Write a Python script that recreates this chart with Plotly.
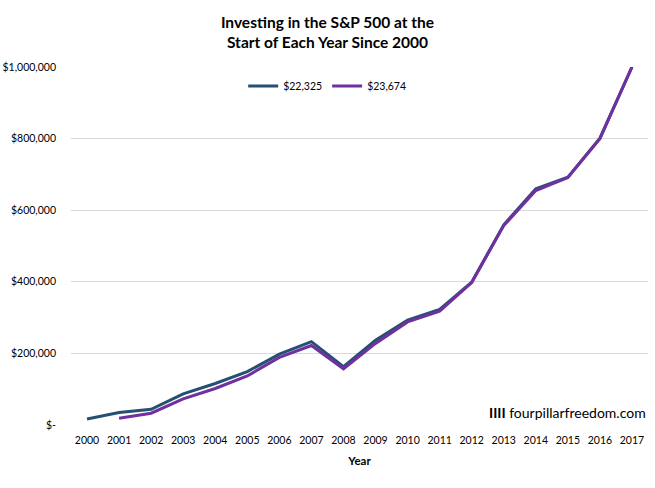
import plotly.graph_objects as go

years = list(range(2000, 2018))
dark_name = "$22,325"
purple_name = "$23,674"
dark_vals = [17000, 35000, 44000, 87000, 116000, 149000, 198000, 233000, 163000,
             237000, 293000, 323000, 399000, 559000, 660000, 692000, 801000, 1000000]
purple_years = list(range(2001, 2018))
purple_vals = [19000, 33000, 73000, 102000, 137000, 189000, 222000, 157000,
               228000, 288000, 318000, 398000, 557000, 655000, 691000, 800000, 1000000]
ytick_vals = [0, 200000, 400000, 600000, 800000, 1000000]
ytick_text = ["$-", "$200,000", "$400,000", "$600,000", "$800,000", "$1,000,000"]

font_family = "Lato, 'Open Sans', sans-serif"

fig = go.Figure()
fig.add_trace(go.Scatter(x=years, y=dark_vals, mode="lines", name=dark_name,
                         line=dict(color="#255072", width=3)))
fig.add_trace(go.Scatter(x=purple_years, y=purple_vals, mode="lines", name=purple_name,
                         line=dict(color="#7030A0", width=3)))

fig.update_layout(
    width=655, height=488,
    margin=dict(l=71, r=7, t=67, b=63, autoexpand=False),
    paper_bgcolor="white", plot_bgcolor="white",
    font=dict(family=font_family, color="#404040", size=11),
    title=dict(text="<b>Investing in the S&P 500 at the<br>Start of Each Year Since 2000</b>",
               xref="container", x=0.5, xanchor="center",
               yref="container", y=0.943, yanchor="middle",
               font=dict(size=15.5, color="#000000", family=font_family)),
    legend=dict(orientation="h", xref="paper", x=0.444, xanchor="center",
                yref="paper", y=0.947, yanchor="middle",
                font=dict(size=10.5, color="#000000"), bgcolor="rgba(0,0,0,0)",
                traceorder="normal"),
    showlegend=True,
)
fig.update_xaxes(range=[1999.5, 2017.5], tickmode="array", tickvals=years,
                 ticktext=[str(y) for y in years], showgrid=False, zeroline=False,
                 showline=False, ticks="", tickangle=0, ticklabelstandoff=7,
                 tickfont=dict(size=10.5, color="#000000"),
                 title=dict(text="<b>Year</b>", font=dict(size=11.5, color="#000000"), standoff=12))
fig.update_yaxes(range=[0, 1000000], tickmode="array", tickvals=ytick_vals, ticktext=ytick_text,
                 showgrid=True, gridcolor="#D9D9D9", gridwidth=1, zeroline=False,
                 showline=False, ticks="", ticklabelstandoff=14,
                 tickfont=dict(size=10.5, color="#000000"))

fig.add_annotation(text="<b>IIII</b> fourpillarfreedom.com", xref="paper", yref="paper",
                   x=1.0, y=0.0, xanchor="right", yanchor="bottom", showarrow=False,
                   font=dict(size=14, color="#000000", family=font_family), yshift=2)

fig.write_html("out.html")
